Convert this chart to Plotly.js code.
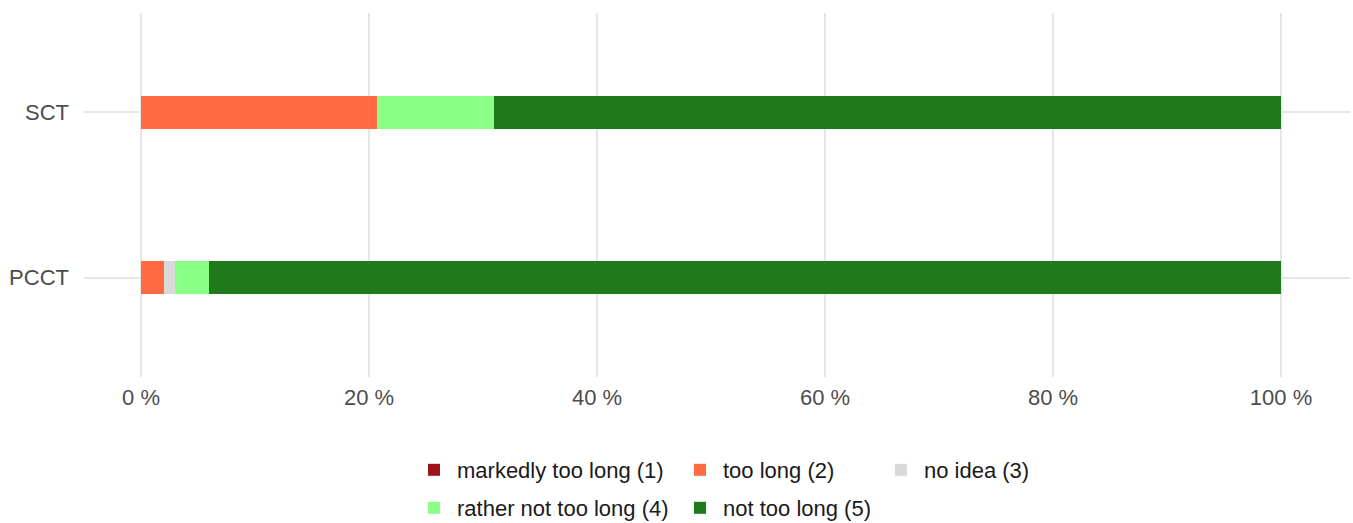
<!DOCTYPE html>
<html>
<head>
<meta charset="utf-8">
<script src="https://cdn.plot.ly/plotly-3.0.1.min.js"></script>
<style>html,body{margin:0;padding:0;background:#fff;}#chart{width:1353px;height:523px;}</style>
</head>
<body>
<div id="chart"></div>
<script>
var categories = ['SCT', 'PCCT'];
var seriesNames = ['markedly too long (1)', 'too long (2)', 'no idea (3)', 'rather not too long (4)', 'not too long (5)'];
var markedlyTooLong = [0, 0];
var tooLong = [20.7, 2.0];
var noIdea = [0, 1.0];
var ratherNotTooLong = [10.3, 3.0];
var notTooLong = [69.0, 94.0];
var tickValues = [0, 20, 40, 60, 80, 100];
var tickLabels = ['0 %', '20 %', '40 %', '60 %', '80 %', '100 %'];

var seriesValues = [markedlyTooLong, tooLong, noIdea, ratherNotTooLong, notTooLong];
var colors = ['#a0131d', '#ff6a42', '#d9d9d9', '#8aff86', '#1f7a1c'];
var legendIds = ['legend', 'legend2', 'legend3', 'legend4', 'legend5'];

var traces = seriesValues.map(function (vals, i) {
  return {
    type: 'bar',
    orientation: 'h',
    y: categories,
    x: vals,
    name: seriesNames[i],
    marker: {color: colors[i], line: {width: 0}},
    width: 0.2,
    legend: legendIds[i],
    hoverinfo: 'skip'
  };
});

var FONT = 'Liberation Sans, Arial, sans-serif';
var L = 84, R = 3, T = 13, B = 146, W = 1353, H = 523;

function leg(xpx, ypx) {
  return {
    orientation: 'h', xref: 'container', yref: 'container',
    x: xpx / W, y: 1 - ypx / H, xanchor: 'left', yanchor: 'middle',
    font: {family: FONT, size: 22, color: '#1a1a1a'},
    itemwidth: 36,
    bgcolor: 'rgba(0,0,0,0)', borderwidth: 0, itemclick: false, itemdoubleclick: false
  };
}

var layout = {
  width: W, height: H,
  margin: {l: L, r: R, t: T, b: B, pad: 0, autoexpand: false},
  paper_bgcolor: '#ffffff', plot_bgcolor: '#ffffff',
  barmode: 'stack',
  bargap: 0,
  font: {family: FONT, size: 22, color: '#4d4d4d'},
  xaxis: {
    range: [-5, 106.05], tickmode: 'array', tickvals: tickValues, ticktext: tickLabels,
    showgrid: true, gridcolor: '#e6e6e6', gridwidth: 2,
    zeroline: false, showline: false, ticks: '', ticklabelstandoff: 5,
    tickfont: {family: FONT, size: 22, color: '#4d4d4d'},
    fixedrange: true
  },
  yaxis: {
    type: 'category', categoryorder: 'array', categoryarray: ['PCCT', 'SCT'],
    range: [-0.6, 1.6],
    showgrid: true, gridcolor: '#e6e6e6', gridwidth: 2,
    zeroline: false, showline: false, ticks: '', ticklabelstandoff: 14,
    tickfont: {family: FONT, size: 22, color: '#4d4d4d'},
    fixedrange: true
  },
  legend: leg(411, 470),
  legend2: leg(677, 470),
  legend3: leg(878, 470),
  legend4: leg(411, 508),
  legend5: leg(677, 508),
  showlegend: true
};

Plotly.newPlot('chart', traces, layout, {displayModeBar: false, staticPlot: true});
</script>
</body>
</html>
